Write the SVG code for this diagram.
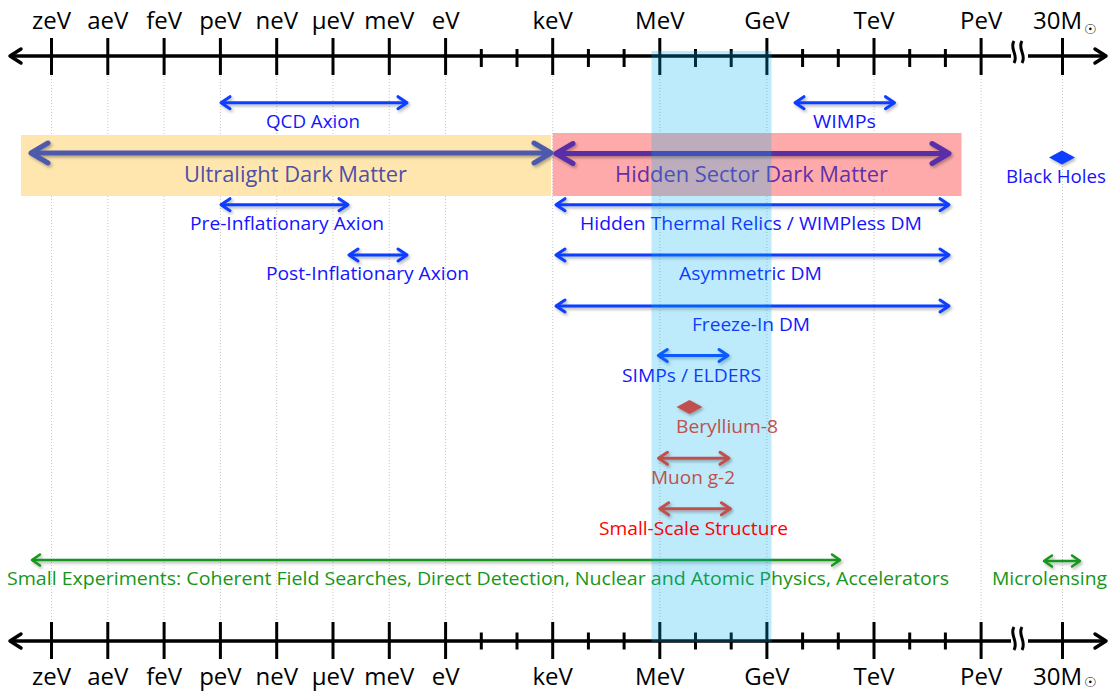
<svg xmlns="http://www.w3.org/2000/svg" width="1109" height="692" viewBox="0 0 1109 692">
<style>
.ax{font-family:"Open Sans","Liberation Sans",sans-serif;font-size:24px;fill:#000;text-anchor:middle}
.lb{font-family:"Open Sans","Liberation Sans",sans-serif;font-size:19px}
.big{font-family:"Open Sans","Liberation Sans",sans-serif;font-size:21px}
.blue{fill:#1414ff}
.red{fill:#c0504d}
.green{fill:#17961a}
.axl{stroke:#000;stroke-width:3.5;fill:none}
.tk{stroke:#000;stroke-width:3}
.grid{stroke:#c4c4c4;stroke-width:1;stroke-dasharray:1 2}
.ab{stroke:#0a3dff;stroke-width:3;fill:none}
.ar{stroke:#c0504d;stroke-width:3;fill:none}
.ag{stroke:#17961a;stroke-width:2.5;fill:none}
.sun{font-family:"DejaVu Sans",sans-serif;font-size:14px}
</style>
<defs>
<filter id="sh" x="-5%" y="-50%" width="110%" height="200%">
<feDropShadow dx="1.5" dy="2" stdDeviation="1.5" flood-color="#000" flood-opacity="0.3"/>
</filter>
<marker id="mb" markerUnits="userSpaceOnUse" viewBox="-12 -8 14 16" refX="0" refY="0" markerWidth="14" markerHeight="16" orient="auto-start-reverse" overflow="visible">
<path d="M-9,-6 L0,0 L-9,6" fill="none" stroke="#0a3dff" stroke-width="3" stroke-linecap="round" stroke-linejoin="round"/>
</marker>
<marker id="mr" markerUnits="userSpaceOnUse" viewBox="-12 -8 14 16" refX="0" refY="0" markerWidth="14" markerHeight="16" orient="auto-start-reverse" overflow="visible">
<path d="M-9,-6 L0,0 L-9,6" fill="none" stroke="#c0504d" stroke-width="3" stroke-linecap="round" stroke-linejoin="round"/>
</marker>
<marker id="mg" markerUnits="userSpaceOnUse" viewBox="-12 -8 14 16" refX="0" refY="0" markerWidth="14" markerHeight="16" orient="auto-start-reverse" overflow="visible">
<path d="M-8,-5.5 L0,0 L-8,5.5" fill="none" stroke="#17961a" stroke-width="2.5" stroke-linecap="round" stroke-linejoin="round"/>
</marker>
<marker id="ms" markerUnits="userSpaceOnUse" viewBox="-20 -12 22 24" refX="0" refY="0" markerWidth="22" markerHeight="24" orient="auto-start-reverse" overflow="visible">
<path d="M-17,-10 L0,0 L-17,10" fill="none" stroke="#4e5aac" stroke-width="5" stroke-linecap="round" stroke-linejoin="round"/>
</marker>
<marker id="mp" markerUnits="userSpaceOnUse" viewBox="-20 -12 22 24" refX="0" refY="0" markerWidth="22" markerHeight="24" orient="auto-start-reverse" overflow="visible">
<path d="M-17,-10 L0,0 L-17,10" fill="none" stroke="#5a2ea6" stroke-width="5" stroke-linecap="round" stroke-linejoin="round"/>
</marker>
<marker id="mk" markerUnits="userSpaceOnUse" viewBox="-14 -9 16 18" refX="0" refY="0" markerWidth="16" markerHeight="18" orient="auto-start-reverse" overflow="visible">
<path d="M-11,-7 L0,0 L-11,7" fill="none" stroke="#000" stroke-width="3.5" stroke-linecap="round" stroke-linejoin="round"/>
</marker>
</defs>
<rect width="1109" height="692" fill="#fff"/>

<g id="gridlines">
<line class="grid" x1="51.5" y1="76" x2="51.5" y2="622"/>
<line class="grid" x1="107.8" y1="76" x2="107.8" y2="622"/>
<line class="grid" x1="164.1" y1="76" x2="164.1" y2="622"/>
<line class="grid" x1="220.4" y1="76" x2="220.4" y2="622"/>
<line class="grid" x1="276.7" y1="76" x2="276.7" y2="622"/>
<line class="grid" x1="333" y1="76" x2="333" y2="622"/>
<line class="grid" x1="389.3" y1="76" x2="389.3" y2="622"/>
<line class="grid" x1="445.6" y1="76" x2="445.6" y2="622"/>
<line class="grid" x1="552.7" y1="76" x2="552.7" y2="622"/>
<line class="grid" x1="659.8" y1="76" x2="659.8" y2="622"/>
<line class="grid" x1="766.9" y1="76" x2="766.9" y2="622"/>
<line class="grid" x1="874" y1="76" x2="874" y2="622"/>
<line class="grid" x1="981.1" y1="76" x2="981.1" y2="622"/>
<line class="grid" x1="1062.5" y1="76" x2="1062.5" y2="622"/>
</g>

<g id="bands">
<rect x="21" y="135" width="530" height="61" fill="#fee6ae"/>
<rect x="552.7" y="133" width="408.8" height="63" fill="#ffaaaa"/>
</g>

<g id="connectors" filter="url(#sh)">
<line x1="221" y1="102.7" x2="407" y2="102.7" class="ab" marker-start="url(#mb)" marker-end="url(#mb)"/>
<line x1="795" y1="102.7" x2="894.5" y2="102.7" class="ab" marker-start="url(#mb)" marker-end="url(#mb)"/>
<line x1="31" y1="153" x2="551" y2="153" stroke="#4e5aac" stroke-width="5" marker-start="url(#ms)" marker-end="url(#ms)"/>
<line x1="556" y1="153.5" x2="949" y2="153.5" stroke="#5a2ea6" stroke-width="5" marker-start="url(#mp)" marker-end="url(#mp)"/>
<line x1="221" y1="204.7" x2="348" y2="204.7" class="ab" marker-start="url(#mb)" marker-end="url(#mb)"/>
<line x1="556" y1="204.7" x2="949" y2="204.7" class="ab" marker-start="url(#mb)" marker-end="url(#mb)"/>
<line x1="349" y1="255" x2="407" y2="255" class="ab" marker-start="url(#mb)" marker-end="url(#mb)"/>
<line x1="556" y1="255" x2="949" y2="255" class="ab" marker-start="url(#mb)" marker-end="url(#mb)"/>
<line x1="556" y1="306" x2="949" y2="306" class="ab" marker-start="url(#mb)" marker-end="url(#mb)"/>
<line x1="658.3" y1="355.5" x2="728" y2="355.5" class="ab" marker-start="url(#mb)" marker-end="url(#mb)"/>
<line x1="32" y1="560" x2="840" y2="560" class="ag" marker-start="url(#mg)" marker-end="url(#mg)"/>
<line x1="1044" y1="561" x2="1080" y2="561" class="ag" marker-start="url(#mg)" marker-end="url(#mg)"/>
<polygon points="1049,157.5 1062,150.5 1075,157.5 1062,164.5" fill="#0a3dff"/>
</g>

<g id="qcd-axion"><text class="lb blue" x="266" y="128.3" textLength="94" lengthAdjust="spacingAndGlyphs">QCD Axion</text></g>
<g id="wimps"><text class="lb blue" x="813" y="128.3" textLength="63" lengthAdjust="spacingAndGlyphs">WIMPs</text></g>
<g id="ultralight"><text class="big" fill="#4f50a6" x="184" y="182" textLength="223" lengthAdjust="spacingAndGlyphs">Ultralight Dark Matter</text></g>
<g id="hidden-sector"><text class="big" fill="#6430a8" x="615" y="182" textLength="273" lengthAdjust="spacingAndGlyphs">Hidden Sector Dark Matter</text></g>
<g id="black-holes"><text class="lb blue" x="1006" y="182.7" textLength="100" lengthAdjust="spacingAndGlyphs">Black Holes</text></g>
<g id="pre-inflationary"><text class="lb blue" x="190" y="230" textLength="194" lengthAdjust="spacingAndGlyphs">Pre-Inflationary Axion</text></g>
<g id="hidden-thermal"><text class="lb blue" x="580" y="230" textLength="342" lengthAdjust="spacingAndGlyphs">Hidden Thermal Relics / WIMPless DM</text></g>
<g id="post-inflationary"><text class="lb blue" x="266" y="280" textLength="203" lengthAdjust="spacingAndGlyphs">Post-Inflationary Axion</text></g>
<g id="asymmetric"><text class="lb blue" x="679" y="280" textLength="143" lengthAdjust="spacingAndGlyphs">Asymmetric DM</text></g>
<g id="freeze-in"><text class="lb blue" x="692" y="331" textLength="118" lengthAdjust="spacingAndGlyphs">Freeze-In DM</text></g>
<g id="simps"><text class="lb blue" x="622" y="381.7" textLength="139" lengthAdjust="spacingAndGlyphs">SIMPs / ELDERS</text></g>
<g id="small-experiments"><text class="lb green" x="7" y="585" textLength="942" lengthAdjust="spacingAndGlyphs">Small Experiments: Coherent Field Searches, Direct Detection, Nuclear and Atomic Physics, Accelerators</text></g>
<g id="microlensing"><text class="lb green" x="992" y="585" textLength="115" lengthAdjust="spacingAndGlyphs">Microlensing</text></g>

<g id="top-axis">
<path class="axl" d="M10,56 H1011 M1028,56 H1106" marker-start="url(#mk)"/>
<line x1="1028" y1="56" x2="1106" y2="56" stroke="none" marker-end="url(#mk)"/>
<path class="tk" d="M51.5,38V75 M107.8,38V75 M164.1,38V75 M220.4,38V75 M276.7,38V75 M333,38V75 M389.3,38V75 M445.6,38V75 M552.7,38V75 M659.8,38V75 M766.9,38V75 M874,38V75 M981.1,38V75 M1062.5,38V75"/>
<path class="tk" d="M481.3,49V67 M517,49V67 M588.4,49V67 M624.1,49V67 M695.5,49V67 M731.2,49V67 M802.6,49V67 M838.3,49V67 M909.7,49V67 M945.4,49V67"/>
<path d="M1014,41 C1009,49 1019,55 1014,63 M1022,41 C1017,49 1027,55 1022,63" fill="none" stroke="#000" stroke-width="3"/>
<text class="ax" x="51.5" y="29">zeV</text>
<text class="ax" x="107.8" y="29">aeV</text>
<text class="ax" x="164.1" y="29">feV</text>
<text class="ax" x="220.4" y="29">peV</text>
<text class="ax" x="276.7" y="29">neV</text>
<text class="ax" x="333" y="29">μeV</text>
<text class="ax" x="389.3" y="29">meV</text>
<text class="ax" x="445.6" y="29">eV</text>
<text class="ax" x="552.7" y="29">keV</text>
<text class="ax" x="659.8" y="29">MeV</text>
<text class="ax" x="766.9" y="29">GeV</text>
<text class="ax" x="874" y="29">TeV</text>
<text class="ax" x="981.1" y="29">PeV</text>
<text class="ax" x="1033" y="29" style="text-anchor:start">30M<tspan class="sun" dx="2" dy="5">☉</tspan></text>
</g>

<g id="bottom-axis">
<path class="axl" d="M10,641 H1011 M1028,641 H1106" marker-start="url(#mk)"/>
<line x1="1028" y1="641" x2="1106" y2="641" stroke="none" marker-end="url(#mk)"/>
<path class="tk" d="M51.5,622V659 M107.8,622V659 M164.1,622V659 M220.4,622V659 M276.7,622V659 M333,622V659 M389.3,622V659 M445.6,622V659 M552.7,622V659 M659.8,622V659 M766.9,622V659 M874,622V659 M981.1,622V659 M1062.5,622V659"/>
<path class="tk" d="M481.3,632.5V649.5 M517,632.5V649.5 M588.4,632.5V649.5 M624.1,632.5V649.5 M695.5,632.5V649.5 M731.2,632.5V649.5 M802.6,632.5V649.5 M838.3,632.5V649.5 M909.7,632.5V649.5 M945.4,632.5V649.5"/>
<path d="M1014,627 C1009,635 1019,641 1014,650 M1022,627 C1017,635 1027,641 1022,650" fill="none" stroke="#000" stroke-width="3"/>
<text class="ax" x="51.5" y="685">zeV</text>
<text class="ax" x="107.8" y="685">aeV</text>
<text class="ax" x="164.1" y="685">feV</text>
<text class="ax" x="220.4" y="685">peV</text>
<text class="ax" x="276.7" y="685">neV</text>
<text class="ax" x="333" y="685">μeV</text>
<text class="ax" x="389.3" y="685">meV</text>
<text class="ax" x="445.6" y="685">eV</text>
<text class="ax" x="552.7" y="685">keV</text>
<text class="ax" x="659.8" y="685">MeV</text>
<text class="ax" x="766.9" y="685">GeV</text>
<text class="ax" x="874" y="685">TeV</text>
<text class="ax" x="981.1" y="685">PeV</text>
<text class="ax" x="1033" y="685" style="text-anchor:start">30M<tspan class="sun" dx="2" dy="2">☉</tspan></text>
</g>

<g id="mev-gev-band">
<rect x="651.5" y="51" width="120" height="591" fill="#00b0f0" fill-opacity="0.26"/>
</g>

<g id="red-connectors" filter="url(#sh)">
<line x1="658.5" y1="458.3" x2="729" y2="458.3" class="ar" marker-start="url(#mr)" marker-end="url(#mr)"/>
<line x1="659.7" y1="508.8" x2="730.4" y2="508.8" class="ar" marker-start="url(#mr)" marker-end="url(#mr)"/>
<polygon points="676.5,407 689.5,400 702.5,407 689.5,414" fill="#c0504d"/>
</g>
<g id="beryllium"><text class="lb red" x="676" y="433.3" textLength="102" lengthAdjust="spacingAndGlyphs">Beryllium-8</text></g>
<g id="muon"><text class="lb red" x="651" y="484" textLength="84" lengthAdjust="spacingAndGlyphs">Muon g-2</text></g>
<g id="small-scale"><text class="lb" fill="#ff0000" x="599" y="535" textLength="189" lengthAdjust="spacingAndGlyphs">Small-Scale Structure</text></g>
</svg>
